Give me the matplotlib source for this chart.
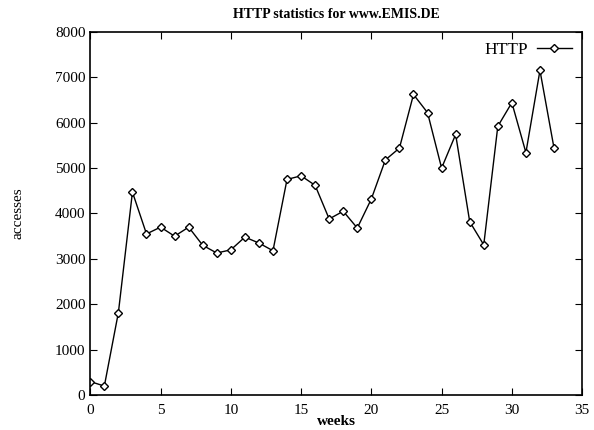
import matplotlib
matplotlib.use("Agg")
import matplotlib.pyplot as plt

weeks = list(range(34))
accesses = [300, 200, 1820, 4470, 3550, 3700, 3500, 3700, 3300, 3130,
            3200, 3480, 3350, 3180, 4750, 4830, 4620, 3880, 4050, 3680,
            4320, 5180, 5440, 6620, 6220, 5000, 5740, 3820, 3310, 5920,
            6440, 5340, 7150, 5440]

plt.rcParams['font.family'] = ['Liberation Serif', 'DejaVu Serif']

fig = plt.figure(figsize=(5.94, 4.30), dpi=100)
ax = fig.add_axes([0.152, 0.081, 0.828, 0.845])
ax.plot(weeks, accesses, color="black", linewidth=1.0, marker="D",
        markersize=4, markerfacecolor="white", markeredgecolor="black",
        markeredgewidth=1.0, label="HTTP")
ax.set_xlim(0, 35)
ax.set_ylim(0, 8000)
ax.set_xticks(range(0, 36, 5))
ax.set_yticks(range(0, 8001, 1000))
ax.tick_params(direction="in", top=True, right=True, labelsize=11, length=5)
ax.tick_params(axis="x", pad=6)
for s in ax.spines.values():
    s.set_linewidth(1.2)
ax.set_xlabel("weeks", fontsize=11, fontweight="bold", labelpad=-1)
ax.set_ylabel("accesses", fontsize=11, labelpad=22)
ax.set_title("HTTP statistics for www.EMIS.DE", fontsize=10, fontweight="bold", pad=10)
ax.legend(loc="upper right", frameon=False, markerfirst=False, fontsize=12.5,
          handlelength=2.0, handletextpad=0.5, borderaxespad=0.2)

fig.savefig("out.png", dpi=100)
